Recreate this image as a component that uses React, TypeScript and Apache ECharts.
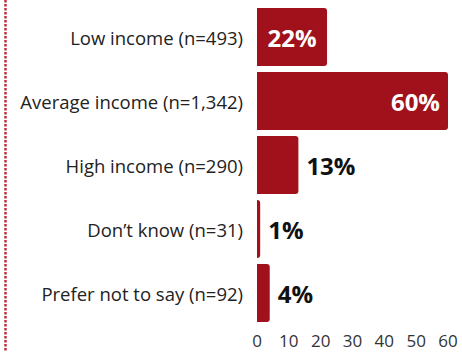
import React, { useEffect, useRef } from "react";
import * as echarts from "echarts";

const categories = [
  "Low income (n=493)",
  "Average income (n=1,342)",
  "High income (n=290)",
  "Don’t know (n=31)",
  "Prefer not to say (n=92)",
];
const values = [22, 60, 13, 1, 4];
const labelPositions = ["inside", "insideRight", "right", "right", "right"];
const xTicks = [0, 10, 20, 30, 40, 50, 60];

const RED = "#a0111b";
const FONT = "'Open Sans', sans-serif";

export default function App() {
  const ref = useRef<HTMLDivElement>(null);
  useEffect(() => {
    if (!ref.current) return;
    const chart = echarts.init(ref.current, undefined, { renderer: "svg" });
    chart.setOption({
      animation: false,
      grid: { left: 257, right: 14, top: 5, bottom: 27, containLabel: false },
      xAxis: {
        type: "value",
        min: xTicks[0],
        max: xTicks[xTicks.length - 1],
        interval: 10,
        axisLine: { show: false },
        axisTick: { show: false },
        splitLine: { show: false },
        axisLabel: {
          color: "#333",
          fontFamily: FONT,
          fontSize: 17,
          margin: 7,
        },
      },
      yAxis: {
        type: "category",
        data: categories,
        inverse: true,
        axisLine: { show: false },
        axisTick: { show: false },
        axisLabel: {
          color: "#222",
          fontFamily: FONT,
          fontSize: 18.5,
          margin: 14,
        },
      },
      series: [
        {
          type: "bar",
          barCategoryGap: "9%",
          data: values.map((v, i) => {
            const inside = labelPositions[i] !== "right";
            return {
              value: v,
              label: {
                show: true,
                position: labelPositions[i],
                distance: 8,
                color: inside ? "#fff" : "#111",
                formatter: "{c}%",
                fontFamily: FONT,
                fontWeight: "bold",
                fontSize: 24,
              },
            };
          }),
          itemStyle: { color: RED, borderRadius: [0, 3, 3, 0] },
        },
      ],
      graphic: [
        {
          type: "line",
          shape: { x1: 5.5, y1: 0, x2: 5.5, y2: 352 },
          style: { stroke: "#c0323c", lineWidth: 2.5, lineDash: [2.5, 1.5] },
        },
      ],
    });
    return () => chart.dispose();
  }, []);
  return (
    <div
      ref={ref}
      style={{ position: "absolute", left: 0, top: 0, width: 462, height: 352 }}
    />
  );
}
